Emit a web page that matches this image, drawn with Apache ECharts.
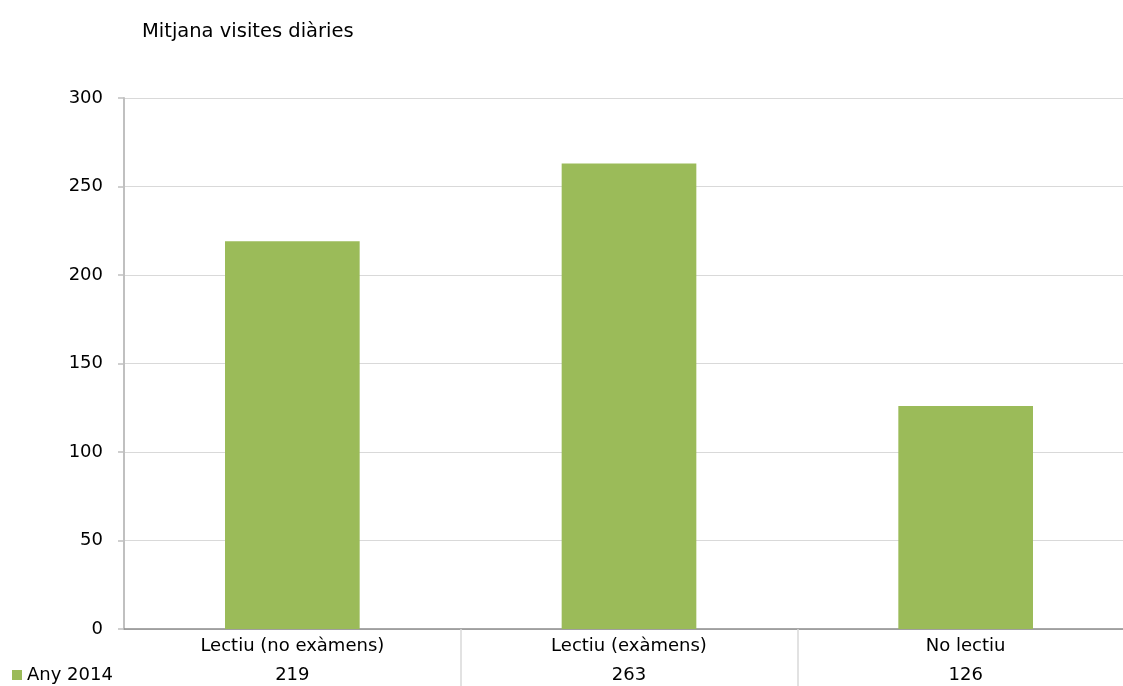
<!DOCTYPE html>
<html>
<head>
<meta charset="utf-8">
<script src="https://cdn.jsdelivr.net/npm/echarts@6/dist/echarts.min.js"></script>
<style>
html,body{margin:0;padding:0;background:#fff;}
#chart{width:1123px;height:686px;}
</style>
</head>
<body>
<div id="chart"></div>
<script>
const titleText = 'Mitjana visites diàries';
const categories = ['Lectiu (no exàmens)', 'Lectiu (exàmens)', 'No lectiu'];
const seriesName = 'Any 2014';
const values = [219, 263, 126];
const yTicks = [0, 50, 100, 150, 200, 250, 300];

const FONT = '"DejaVu Sans", sans-serif';
const chart = echarts.init(document.getElementById('chart'), null, {renderer: 'canvas'});
chart.setOption({
  animation: false,
  backgroundColor: '#ffffff',
  textStyle: {fontFamily: FONT},
  title: {
    text: titleText,
    left: 137,
    top: 17,
    textStyle: {fontFamily: FONT, fontSize: 19.5, fontWeight: 'normal', color: '#000'}
  },
  legend: {
    data: [seriesName],
    left: 7,
    top: 661,
    icon: 'rect',
    itemWidth: 10,
    itemHeight: 10,
    itemGap: 4,
    textStyle: {fontFamily: FONT, fontSize: 18, color: '#000'}
  },
  grid: {left: 124, width: 1010, top: 98, bottom: 57, containLabel: false, outerBoundsMode: 'none'},
  xAxis: [
    {
      type: 'category',
      data: categories,
      position: 'bottom',
      axisLine: {show: true, lineStyle: {color: '#8c8c8c', width: 1.5}},
      axisTick: {
        show: true,
        length: 60,
        inside: false,
        interval: function (i) { return i > 0; },
        lineStyle: {color: '#d9d9d9', width: 1.5}
      },
      axisLabel: {fontFamily: FONT, fontSize: 18, color: '#000', margin: 8},
      splitLine: {show: false}
    },
    {
      type: 'category',
      data: values.map(String),
      position: 'bottom',
      offset: 31,
      axisLine: {show: false},
      axisTick: {show: false},
      axisLabel: {fontFamily: FONT, fontSize: 18, color: '#000', margin: 6},
      splitLine: {show: false}
    }
  ],
  yAxis: {
    type: 'value',
    min: yTicks[0],
    max: yTicks[yTicks.length - 1],
    interval: yTicks[1] - yTicks[0],
    axisLine: {show: true, lineStyle: {color: '#c0c0c0', width: 2}},
    axisTick: {show: true, length: 6, lineStyle: {color: '#c0c0c0', width: 1.5}},
    axisLabel: {fontFamily: FONT, fontSize: 18, color: '#000', margin: 21},
    splitLine: {show: true, lineStyle: {color: '#d9d9d9', width: 1}}
  },
  series: [{
    name: seriesName,
    type: 'bar',
    data: values,
    xAxisIndex: 0,
    barWidth: '40%',
    itemStyle: {color: '#9bbb59'}
  }]
});
</script>
</body>
</html>
